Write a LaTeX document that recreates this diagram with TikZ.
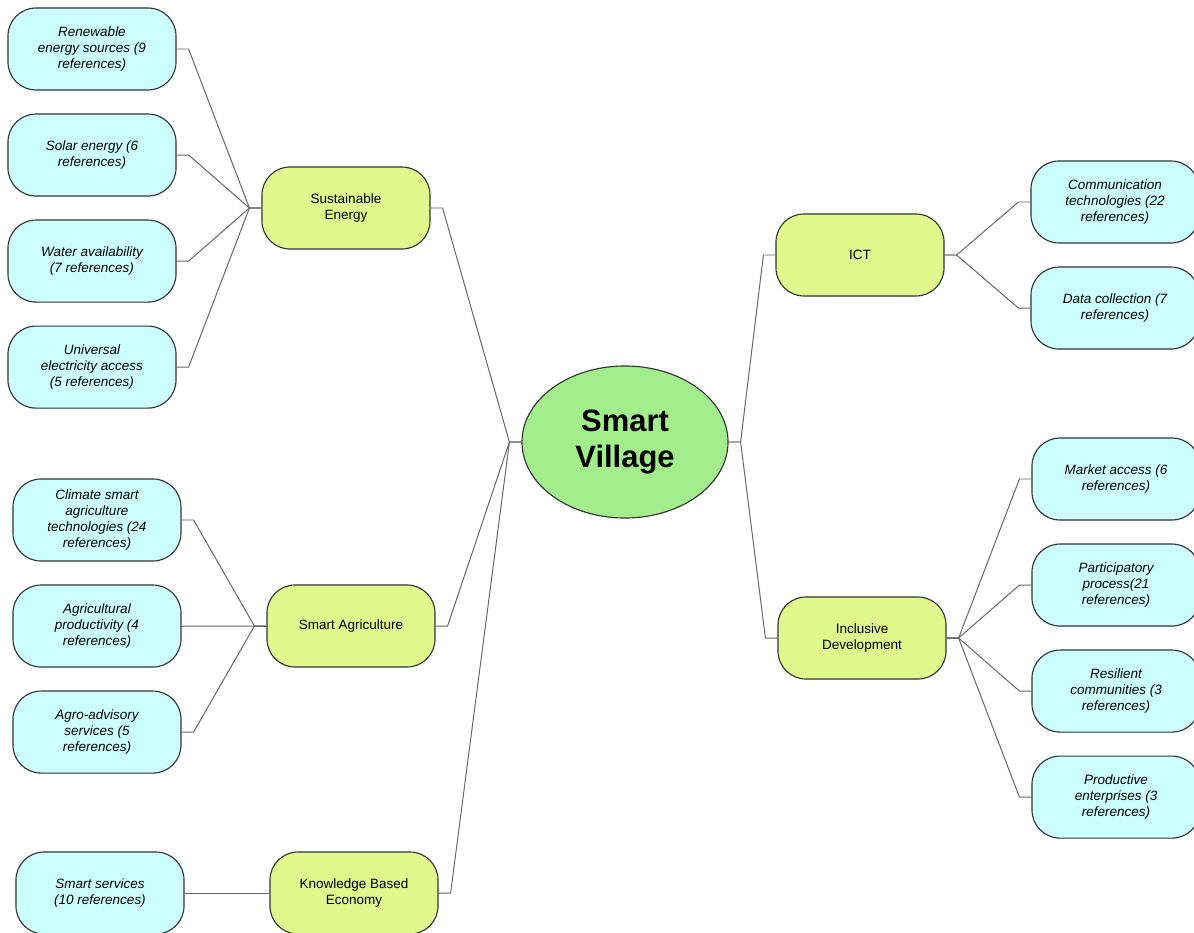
\documentclass[tikz,border=0pt]{standalone}
\usepackage{fontspec}
\setmainfont{Liberation Sans}
\usetikzlibrary{positioning,shapes.geometric}
\definecolor{leafcyan}{RGB}{204,255,255}
\definecolor{topicgreen}{RGB}{225,248,140}
\definecolor{hubgreen}{RGB}{162,238,140}
\begin{document}
\begin{tikzpicture}[
    x=0.025cm, y=-0.025cm,
    node distance=2.65cm,
    leaf/.style={rectangle, rounded corners=0.7cm, draw=black!80, line width=0.8pt, fill=leafcyan, minimum width=4.2cm, minimum height=2.05cm, align=center, font=\fontsize{9.6}{11.4}\selectfont\itshape},
    topic/.style={rectangle, rounded corners=0.7cm, draw=black!80, line width=0.8pt, fill=topicgreen, minimum width=4.2cm, minimum height=2.05cm, align=center, font=\fontsize{9.6}{11.4}\selectfont},
    hub/.style={ellipse, draw=black!80, line width=0.8pt, fill=hubgreen, minimum width=5.15cm, minimum height=3.8cm, inner sep=0pt, align=center, font=\fontsize{22}{26}\selectfont\bfseries},
    link/.style={draw=black!60, line width=0.7pt}
]
    \useasboundingbox (0,0) rectangle (1194,932);

    % centre
    \node[hub] (sv) at (625,442) {Smart\\Village};

    % left topics
    \node[topic] (se) at (346,208) {Sustainable\\Energy};
    \node[topic] (sa) at (351,626) {Smart Agriculture};
    \node[topic] (kbe) at (354,893) {Knowledge Based\\Economy};

    % right topics
    \node[topic] (ict) at (860,255) {ICT};
    \node[topic] (inc) at (862,638) {Inclusive\\Development};

    % leaves of Sustainable Energy
    \node[leaf] (ren) at (92,49) {Renewable\\energy sources (9\\references)};
    \node[leaf, below of=ren] (sol) {Solar energy (6\\references)};
    \node[leaf, below of=sol] (wat) {Water availability\\(7 references)};
    \node[leaf, below of=wat] (uni) {Universal\\electricity access\\(5 references)};

    % leaves of Smart Agriculture
    \node[leaf] (cli) at (97,520) {Climate smart\\agriculture\\technologies (24\\references)};
    \node[leaf, below of=cli] (agr) {Agricultural\\productivity (4\\references)};
    \node[leaf, below of=agr] (agro) {Agro-advisory\\services (5\\references)};

    % leaf of Knowledge Based Economy
    \node[leaf] (ss) at (100,893) {Smart services\\(10 references)};

    % leaves of ICT
    \node[leaf] (com) at (1115,202) {Communication\\technologies (22\\references)};
    \node[leaf, below of=com] (dat) {Data collection (7\\references)};

    % leaves of Inclusive Development
    \node[leaf] (mar) at (1116,479) {Market access (6\\references)};
    \node[leaf, below of=mar] (par) {Participatory\\process(21\\references)};
    \node[leaf, below of=par] (res) {Resilient\\communities (3\\references)};
    \node[leaf, below of=res] (pro) {Productive\\enterprises (3\\references)};

    % connectors, left side
    \foreach \n in {se,sa,kbe}
        \draw[link] (sv.west) -- ++(-0.3cm,0) -- ([xshift=0.3cm]\n.east) -- (\n.east);
    \foreach \n in {ren,sol,wat,uni}
        \draw[link] (se.west) -- ++(-0.3cm,0) -- ([xshift=0.3cm]\n.east) -- (\n.east);
    \foreach \n in {cli,agr,agro}
        \draw[link] (sa.west) -- ++(-0.3cm,0) -- ([xshift=0.3cm]\n.east) -- (\n.east);
    \draw[link] (kbe.west) -- (ss.east);

    % connectors, right side
    \foreach \n in {ict,inc}
        \draw[link] (sv.east) -- ++(0.3cm,0) -- ([xshift=-0.3cm]\n.west) -- (\n.west);
    \foreach \n in {com,dat}
        \draw[link] (ict.east) -- ++(0.3cm,0) -- ([xshift=-0.3cm]\n.west) -- (\n.west);
    \foreach \n in {mar,par,res,pro}
        \draw[link] (inc.east) -- ++(0.3cm,0) -- ([xshift=-0.3cm]\n.west) -- (\n.west);
\end{tikzpicture}
\end{document}
